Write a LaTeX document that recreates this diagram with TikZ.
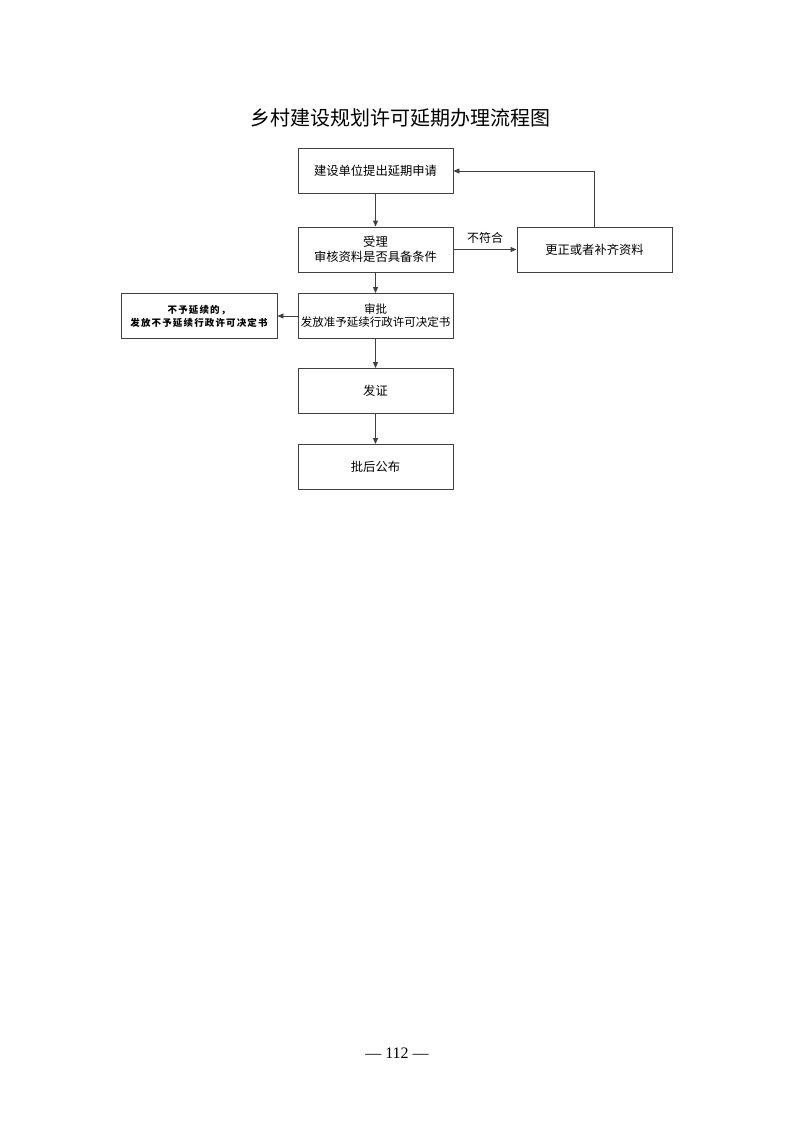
\documentclass[tikz,border=0pt]{standalone}
\usepackage{fontspec}
\setmainfont{Liberation Serif}
\newfontfamily\cjk{Noto Sans CJK SC}
\newfontfamily\cjkspaced[LetterSpace=12]{Noto Sans CJK SC}
\usetikzlibrary{arrows.meta}
\begin{document}
\begin{tikzpicture}[x=1pt,y=-1pt,
  box/.style={draw=black!75,line width=0.9pt,minimum width=155pt,minimum height=45pt,inner sep=0pt,align=center,font=\cjk\fontsize{12.3}{15}\selectfont},
  conn/.style={draw=black!75,line width=0.9pt,-{Triangle[length=6pt,width=5pt]}}]
\useasboundingbox (0,0) rectangle (793,1122);
\node[font=\cjk\fontsize{20}{22}\selectfont] (title) at (400,118) {乡村建设规划许可延期办理流程图};
\node[box] (apply) at (375.5,171) {建设单位提出延期申请};
\node[box] (accept) at (375.5,249.5) {受理\\审核资料是否具备条件};
\node[box] (fix) at (594.5,249.5) {更正或者补齐资料};
\node[box,font=\cjk\fontsize{11.5}{14}\selectfont] (approve) at (375.5,316) {审批\\[-1pt]发放准予延续行政许可决定书};
\node[box,minimum width=156pt,font=\cjkspaced\bfseries\fontsize{9.5}{13}\selectfont] (deny) at (199,316) {不予延续的，\\发放不予延续行政许可决定书};
\node[box] (cert) at (375.5,391) {发证};
\node[box] (pub) at (375.5,467) {批后公布};
\draw[conn] (apply) -- (accept);
\draw[conn] (accept) -- node[above=2pt,pos=0.5,font=\cjk\fontsize{12}{14}\selectfont,text=black] (nc) {不符合} (fix);
\draw[conn] (fix.north) |- (apply.east);
\draw[conn] (accept) -- (approve);
\draw[conn] (approve) -- (deny);
\draw[conn] (approve) -- (cert);
\draw[conn] (cert) -- (pub);
\node[font=\fontsize{16}{18}\selectfont] (page) at (397,1053) {— 112 —};
\end{tikzpicture}
\end{document}
